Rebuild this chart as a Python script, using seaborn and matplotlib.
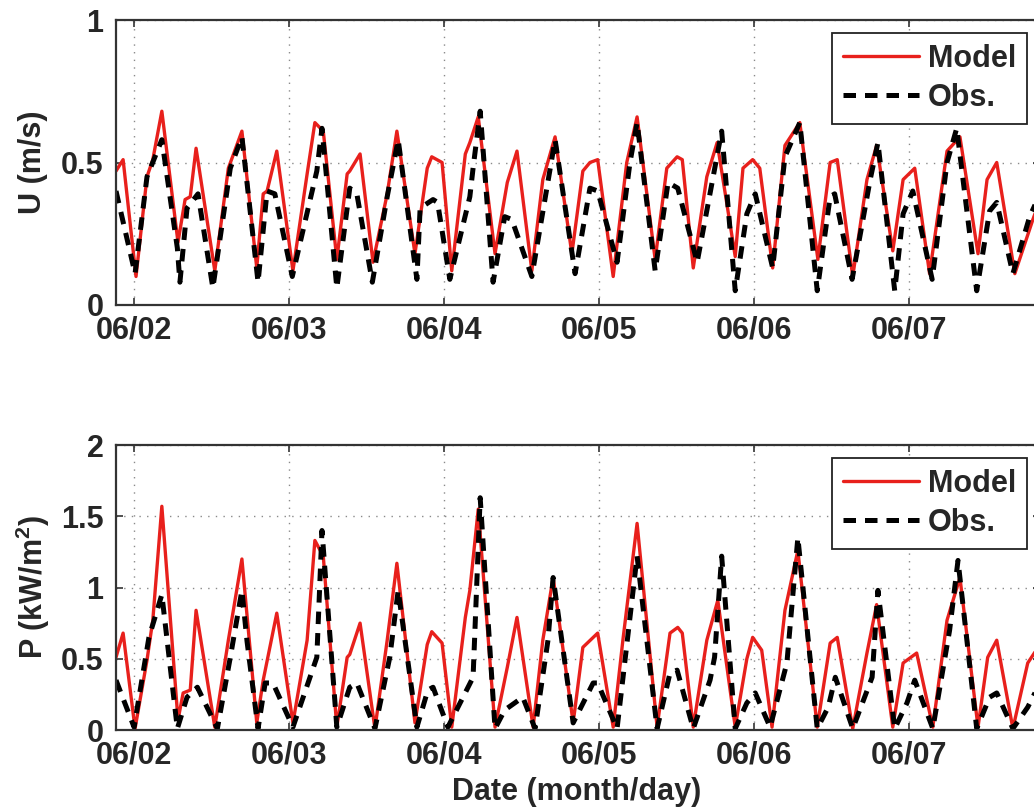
import numpy as np
import pandas as pd
import seaborn as sns
import matplotlib.pyplot as plt

# hours since 06/02 00:00
t_u_model = [-2.8, -1.7, 0.3, 2.0, 2.9, 4.3, 6.8, 7.9, 8.7, 9.6, 12.5, 14.6, 16.7, 19.0, 20.0, 20.6,
             22.1, 24.6, 26.8, 28.0, 29.3, 31.4, 33.0, 33.4, 35.0, 37.0, 39.2, 40.7, 43.5, 45.4, 46.1,
             47.7, 49.2, 51.3, 52.0, 53.3, 55.9, 57.8, 59.3, 61.6, 63.3, 65.2, 67.8, 69.5, 70.6, 71.8,
             74.2, 76.3, 77.9, 80.7, 82.5, 84.1, 84.9, 86.6, 88.7, 90.3, 93.1, 94.3, 95.8, 96.9, 98.9,
             100.8, 103.1, 105.9, 107.8, 108.9, 111.3, 113.5, 115.0, 117.5, 119.1, 120.9, 123.2, 125.9,
             127.9, 130.7, 132.1, 133.6, 136.4, 139.2, 140.3]
u_model = [0.47, 0.51, 0.10, 0.45, 0.51, 0.68, 0.22, 0.37, 0.38, 0.55, 0.12, 0.48, 0.61, 0.13, 0.39, 0.40,
           0.54, 0.12, 0.46, 0.64, 0.61, 0.16, 0.46, 0.47, 0.53, 0.15, 0.39, 0.61, 0.18, 0.48, 0.52,
           0.50, 0.12, 0.53, 0.57, 0.66, 0.18, 0.43, 0.54, 0.12, 0.44, 0.59, 0.18, 0.47, 0.50, 0.51,
           0.10, 0.50, 0.66, 0.16, 0.48, 0.52, 0.51, 0.13, 0.45, 0.57, 0.17, 0.48, 0.51, 0.48, 0.13,
           0.56, 0.64, 0.16, 0.50, 0.51, 0.10, 0.44, 0.56, 0.19, 0.44, 0.48, 0.11, 0.54,
           0.59, 0.18, 0.44, 0.50, 0.11, 0.30, 0.37]

t_u_obs = [-2.8, 0.15, 2.0, 4.3, 6.7, 7.1, 8.2, 9.9, 12.2, 14.9, 16.7, 19.2, 20.6, 21.8, 24.5, 28.3,
           29.1, 31.4, 33.4, 34.5, 36.9, 39.2, 40.9, 43.8, 44.3, 46.3, 47.0, 48.9, 52.0, 52.5, 53.6,
           55.6, 57.4, 58.5, 61.6, 65.2, 68.3, 70.6, 71.8, 74.8, 76.8, 77.9, 80.7, 82.7, 84.2, 87.2,
           89.6, 91.0, 93.1, 94.9, 96.2, 98.9, 100.8, 103.1, 105.8, 107.8, 108.5, 111.2, 114.0, 115.2,
           117.8, 119.1, 120.6, 123.6, 125.9, 127.4, 130.5, 132.5, 133.6, 136.1, 138.7, 140.3]
u_obs = [0.40, 0.11, 0.45, 0.58, 0.20, 0.08, 0.34, 0.39, 0.06, 0.48, 0.59, 0.08, 0.40, 0.39, 0.10, 0.47,
         0.62, 0.06, 0.41, 0.39, 0.08, 0.38, 0.58, 0.09, 0.34, 0.37, 0.36, 0.09, 0.38, 0.48, 0.68,
         0.08, 0.31, 0.30, 0.10, 0.58, 0.11, 0.41, 0.40, 0.15, 0.50, 0.64, 0.12, 0.43, 0.41, 0.15,
         0.44, 0.61, 0.05, 0.32, 0.39, 0.13, 0.52, 0.64, 0.05, 0.38, 0.39, 0.09, 0.44, 0.57,
         0.05, 0.32, 0.40, 0.09, 0.50, 0.62, 0.05, 0.33, 0.36, 0.11, 0.31, 0.39]

t_p_model = [-2.8, -1.7, 0.15, 2.0, 2.9, 4.3, 6.8, 7.6, 8.7, 9.6, 12.5, 14.6, 16.7, 19.0, 20.0, 22.1,
             24.6, 26.8, 28.0, 29.3, 31.4, 33.0, 33.4, 35.0, 37.3, 39.2, 40.7, 43.5, 45.4, 46.1, 47.7,
             49.2, 51.3, 52.0, 53.3, 55.9, 57.8, 59.3, 61.8, 63.3, 64.9, 68.0, 69.5, 71.8, 74.2, 75.7,
             77.9, 81.0, 83.0, 84.2, 84.9, 86.6, 88.7, 90.4, 93.1, 94.9, 95.8, 97.2, 98.8, 100.8, 102.8,
             105.8, 107.8, 108.9, 111.3, 113.5, 115.0, 117.5, 119.1, 121.2, 123.7, 125.9, 127.9, 130.7,
             132.2, 133.6, 136.1, 138.4, 140.3]
p_model = [0.51, 0.68, 0.01, 0.49, 0.77, 1.57, 0.07, 0.26, 0.28, 0.84, 0.02, 0.63, 1.20, 0.05, 0.35, 0.82,
           0.05, 0.63, 1.33, 1.22, 0.02, 0.51, 0.53, 0.75, 0.01, 0.63, 1.17, 0.05, 0.60, 0.69, 0.61,
           0.02, 0.79, 0.98, 1.55, 0.02, 0.44, 0.79, 0.02, 0.63, 1.07, 0.05, 0.58, 0.68, 0.02, 0.63,
           1.45, 0.02, 0.68, 0.72, 0.68, 0.02, 0.63, 0.91, 0.02, 0.50, 0.65, 0.56, 0.02, 0.84, 1.26,
           0.02, 0.61, 0.65, 0.01, 0.54, 0.88, 0.02, 0.47, 0.54, 0.02, 0.77, 1.07, 0.02,
           0.51, 0.63, 0.01, 0.47, 0.60]

t_p_obs = [-2.8, 0.0, 2.3, 4.3, 6.7, 8.2, 9.8, 12.9, 14.9, 16.7, 17.5, 19.2, 20.3, 21.5, 24.6, 28.3,
           29.1, 31.4, 33.4, 34.5, 37.3, 39.6, 40.9, 43.8, 45.5, 46.3, 48.6, 52.5, 53.6, 55.9, 57.4,
           60.2, 62.1, 64.1, 64.9, 68.0, 71.1, 71.8, 74.8, 77.9, 81.0, 83.0, 84.1, 86.6, 89.2, 89.9,
           91.0, 93.1, 94.9, 96.2, 98.5, 101.1, 102.8, 105.8, 107.5, 108.6, 111.3, 114.3, 115.2, 117.8,
           119.7, 120.9, 123.7, 126.3, 127.6, 130.5, 132.5, 133.6, 136.1, 138.4, 140.3]
p_obs = [0.35, 0.02, 0.65, 0.95, 0.01, 0.23, 0.30, 0.01, 0.51, 0.98, 0.62, 0.01, 0.33, 0.33, 0.02, 0.51,
         1.40, 0.02, 0.30, 0.33, 0.01, 0.51, 0.98, 0.02, 0.28, 0.30, 0.02, 0.37, 1.63, 0.01, 0.14,
         0.23, 0.01, 0.63, 1.07, 0.05, 0.33, 0.33, 0.01, 1.22, 0.01, 0.40, 0.42, 0.01, 0.35, 0.51,
         1.22, 0.01, 0.19, 0.26, 0.02, 0.47, 1.35, 0.01, 0.16, 0.37, 0.01, 0.37, 0.98, 0.01,
         0.19, 0.35, 0.01, 0.70, 1.19, 0.01, 0.23, 0.26, 0.01, 0.16, 0.33]

x_ticks = [0, 24, 48, 72, 96, 120]
x_labels = ['06/02', '06/03', '06/04', '06/05', '06/06', '06/07']
u_ticks = [0, 0.5, 1]
u_labels = ['0', '0.5', '1']
p_ticks = [0, 0.5, 1, 1.5, 2]
p_labels = ['0', '0.5', '1', '1.5', '2']

sns.set_theme(style='white')
plt.rcParams['font.family'] = ['Liberation Sans', 'DejaVu Sans']
plt.rcParams['font.weight'] = 'bold'
plt.rcParams['mathtext.fontset'] = 'custom'
plt.rcParams['mathtext.rm'] = 'Liberation Sans:bold'
plt.rcParams['mathtext.bf'] = 'Liberation Sans:bold'
plt.rcParams['mathtext.default'] = 'bf'

red = '#e8201c'
fs = 22

fig = plt.figure(figsize=(10.34, 8.11), dpi=100)
ax1 = fig.add_axes([116 / 1034, 1 - 305 / 811, 924 / 1034, 285 / 811])
ax2 = fig.add_axes([116 / 1034, 1 - 730 / 811, 924 / 1034, 285 / 811])


def draw_panel(ax, t_mod, v_mod, t_obs, v_obs, yticks, ylabels, ylim, ylabel, legend_top):
    sns.lineplot(x=t_mod, y=v_mod, ax=ax, color=red, lw=2.4, label='Model',
                 sort=False, estimator=None, solid_joinstyle='round')
    sns.lineplot(x=t_obs, y=v_obs, ax=ax, color='black', lw=3.6, linestyle=(0, (2.5, 1.8)),
                 label='Obs.', sort=False, estimator=None)
    ax.set_xlim(-2.8, 140.3)
    ax.set_ylim(*ylim)
    ax.set_xticks(x_ticks)
    ax.set_xticklabels(x_labels)
    ax.set_yticks(yticks)
    ax.set_yticklabels(ylabels)
    ax.grid(True, color='#8a8a8a', linestyle=(0, (1, 4.5)), lw=1.0)
    for s in ax.spines.values():
        s.set_color('#333333')
        s.set_linewidth(1.6)
    ax.tick_params(axis='both', which='major', direction='in', length=5, width=1.2,
                   color='#333333', labelsize=fs, top=True, right=True, bottom=True, left=True)
    ax.tick_params(axis='x', pad=7.5)
    ax.tick_params(axis='y', pad=9)
    ax.set_ylabel(ylabel, fontsize=fs, weight='bold', va='center')
    ax.yaxis.set_label_coords(-0.09, 0.5)
    ax.set_xlabel('')
    leg = ax.legend(loc='upper right', bbox_to_anchor=(1027 / 1034, 1 - legend_top / 811),
                    bbox_transform=fig.transFigure, borderaxespad=0,
                    prop={'weight': 'bold', 'size': fs}, handlelength=2.5, handletextpad=0.3,
                    borderpad=0.35, labelspacing=0.3, fancybox=False, framealpha=1,
                    edgecolor='#222222')
    leg.get_frame().set_linewidth(1.3)


draw_panel(ax1, t_u_model, u_model, t_u_obs, u_obs, u_ticks, u_labels, (0, 1), 'U (m/s)', 33)
draw_panel(ax2, t_p_model, p_model, t_p_obs, p_obs, p_ticks, p_labels, (0, 2),
           r'P (kW/m$^2$)', 458)

ax2.set_xlabel('Date (month/day)', fontsize=fs, weight='bold', va='center')
ax2.xaxis.set_label_coords(0.499, -0.2175)

fig.savefig('out.png', dpi=100)
